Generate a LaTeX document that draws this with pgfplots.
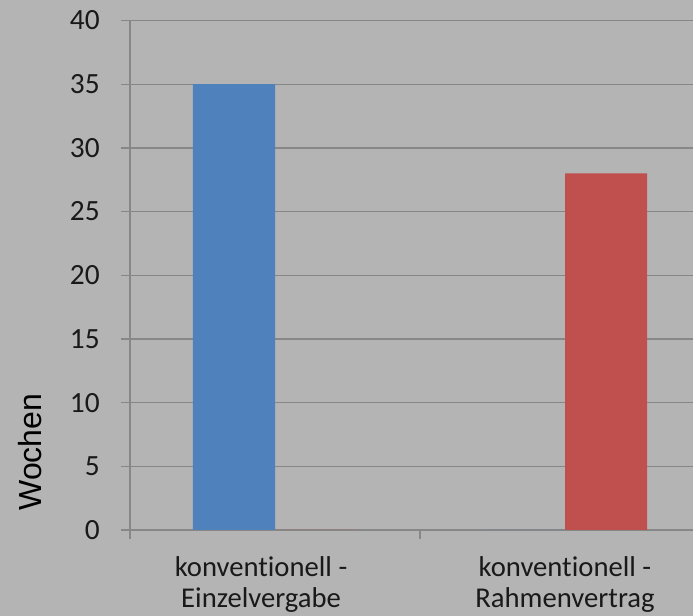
\documentclass[border=0pt]{standalone}
\usepackage{pgfplots}
\pgfplotsset{compat=1.18}
\usepackage{fontspec}
\setmainfont{Carlito}[RawFeature=-liga]
\newfontfamily\arialfont{Liberation Sans}
\definecolor{bg}{RGB}{180,180,180}
\definecolor{gridc}{RGB}{135,135,135}
\definecolor{barblue}{RGB}{79,129,189}
\definecolor{barred}{RGB}{192,80,77}
\definecolor{txt}{RGB}{25,25,25}
\begin{document}
\begin{tikzpicture}
\fill[bg] (0,0) rectangle (519.75pt,462pt);
\begin{scope}
\clip (0,0) rectangle (519.75pt,462pt);
\begin{axis}[
  at={(97.5pt,64.5pt)}, anchor=south west,
  scale only axis, width=435pt, height=382.1pt,
  xmin=0, xmax=2, ymin=0, ymax=40,
  ybar=0pt, bar width=61.5pt,
  /pgf/number format/assume math mode=true,
  axis x line*=bottom, axis y line*=left,
  axis line style={gridc, line width=1pt},
  ytick={0,5,...,40},
  ymajorgrids, grid style={gridc, line width=1pt},
  xtick={0,1,2}, xticklabels={,,},
  tick align=outside, major tick length=6.75pt,
  tick style={gridc, line width=1pt},
  extra x ticks={0.452,1.5},
  extra x tick labels={{konventionell -\\Einzelvergabe},{konventionell -\\Rahmenvertrag}},
  extra x tick style={major tick length=0pt, tick style={draw=none}},
  xticklabel style={align=center, font=\fontsize{21.5}{23.3}\selectfont, text=txt, anchor=north, inner sep=0pt, yshift=-19.5pt},
  yticklabel style={font=\fontsize{22}{25}\selectfont, text=txt, anchor=east, inner sep=0pt, xshift=-15.75pt},
  ylabel={Wochen},
  ylabel style={at={(rel axis cs:-0.153,0.153)}, anchor=base, rotate=0, font=\arialfont\fontsize{24}{28}\selectfont, text=black},
]
\addplot[fill=barblue, draw=none] coordinates {(0.5,35) (1.5,0)};
\addplot[fill=barred, draw=none] coordinates {(0.5,0) (1.5,28)};
\end{axis}
\end{scope}
\pgfresetboundingbox
\useasboundingbox (0,0) rectangle (519.75pt,462pt);
\end{tikzpicture}
\end{document}
